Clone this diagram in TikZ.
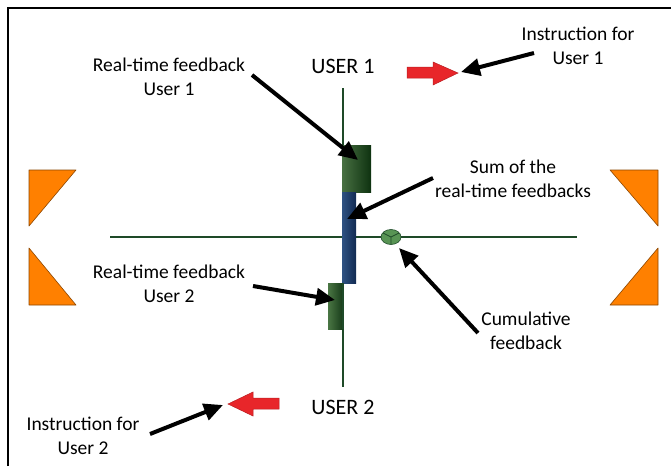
\documentclass[tikz,border=0pt]{standalone}
\usepackage{fontspec}
\setmainfont{Carlito}
\usetikzlibrary{arrows.meta}
\definecolor{axisgreen}{HTML}{1E4A28}
\definecolor{orng}{HTML}{FF8000}
\definecolor{redarr}{HTML}{E8262A}
\definecolor{cumgreen}{RGB}{88,148,84}
\tikzset{
  lbl/.style={align=center, font=\fontsize{19.5}{23.5}\selectfont, inner sep=0pt},
  userlbl/.style={font=\fontsize{22}{26}\selectfont, inner sep=0pt},
  axis/.style={draw=axisgreen, line width=2pt},
  pointer/.style={draw=black, line width=4pt, -{Triangle[length=19pt,width=17pt]}, shorten >=0pt},
  tri/.style={fill=orng, draw=orng!55!black, line width=0.6pt, line join=round},
  redarrow/.style={fill=redarr, draw=redarr!80!black, line width=0.5pt},
}
\begin{document}
\begin{tikzpicture}[x=1pt,y=-1pt]
\useasboundingbox (0,0) rectangle (671,466);
% frame
\draw[line width=2pt] (7.5,466) -- (7.5,7.5) -- (671,7.5);
% axes
\coordinate (hl) at (110,237); \coordinate (hr) at (577,237);
\coordinate (vt) at (343,88); \coordinate (vb) at (343,387);
\draw[axis] (hl) -- (hr);
\draw[axis] (vt) -- (vb);
% bars
\shade[left color={rgb,255:red,72;green,112;blue,66}, right color={rgb,255:red,14;green,50;blue,16}]
  (342,145) rectangle (371,192);
\shade[left color={rgb,255:red,46;green,82;blue,130}, right color={rgb,255:red,18;green,42;blue,82}]
  (342,192) rectangle (356,283);
\shade[left color={rgb,255:red,74;green,118;blue,68}, right color={rgb,255:red,22;green,58;blue,24}]
  (328,283) rectangle (343,329);
\draw[axis, line width=1.5pt] (343,283) -- (343,329);
% cumulative ellipse
\filldraw[fill=cumgreen, draw=axisgreen, line width=0.6pt] (391,237) ellipse (10 and 7.5);
\draw[axisgreen, line width=0.8pt] (391,237) -- (383,233) (391,237) -- (399,233) (391,237) -- (391,244);
% triangles
\draw[tri] (29,170) -- (76,170) -- (29,226) -- cycle;
\draw[tri] (29,248) -- (76,305) -- (29,305) -- cycle;
\draw[tri] (610,170) -- (658,170) -- (658,226) -- cycle;
\draw[tri] (658,248) -- (658,305) -- (610,305) -- cycle;
% red arrows
\draw[redarrow] (407,67) -- (433,67) -- (433,62) -- (458,73) -- (433,85) -- (433,78) -- (407,78) -- cycle;
\draw[redarrow] (279,398) -- (253,398) -- (253,392) -- (228,404) -- (253,416) -- (253,409) -- (279,409) -- cycle;
% labels
\node[userlbl] (u1) at (343,66) {USER 1};
\node[userlbl] (u2) at (343,407) {USER 2};
\node[lbl] (rf1) at (169,77) {Real-time feedback\\User 1};
\node[lbl] (rf2) at (169,284) {Real-time feedback\\User 2};
\node[lbl] (sum) at (513,179) {Sum of the\\real-time feedbacks};
\node[lbl] (cum) at (526,331) {Cumulative\\feedback};
\node[lbl] (in1) at (578,46) {Instruction for\\User 1};
\node[lbl] (in2) at (83,436) {Instruction for\\User 2};
% pointer coordinates
\coordinate (p1s) at (252,75);  \coordinate (p1e) at (358,160);
\coordinate (p2s) at (433,178); \coordinate (p2e) at (347,219);
\coordinate (p3s) at (253,286); \coordinate (p3e) at (335,300);
\coordinate (p4s) at (478,333); \coordinate (p4e) at (399,248);
\coordinate (p5s) at (534,53);  \coordinate (p5e) at (461,72);
\coordinate (p6s) at (150,434); \coordinate (p6e) at (223,405);
\draw[pointer] (p1s) -- (p1e);
\draw[pointer] (p2s) -- (p2e);
\draw[pointer] (p3s) -- (p3e);
\draw[pointer] (p4s) -- (p4e);
\draw[pointer] (p5s) -- (p5e);
\draw[pointer] (p6s) -- (p6e);
\end{tikzpicture}
\end{document}
